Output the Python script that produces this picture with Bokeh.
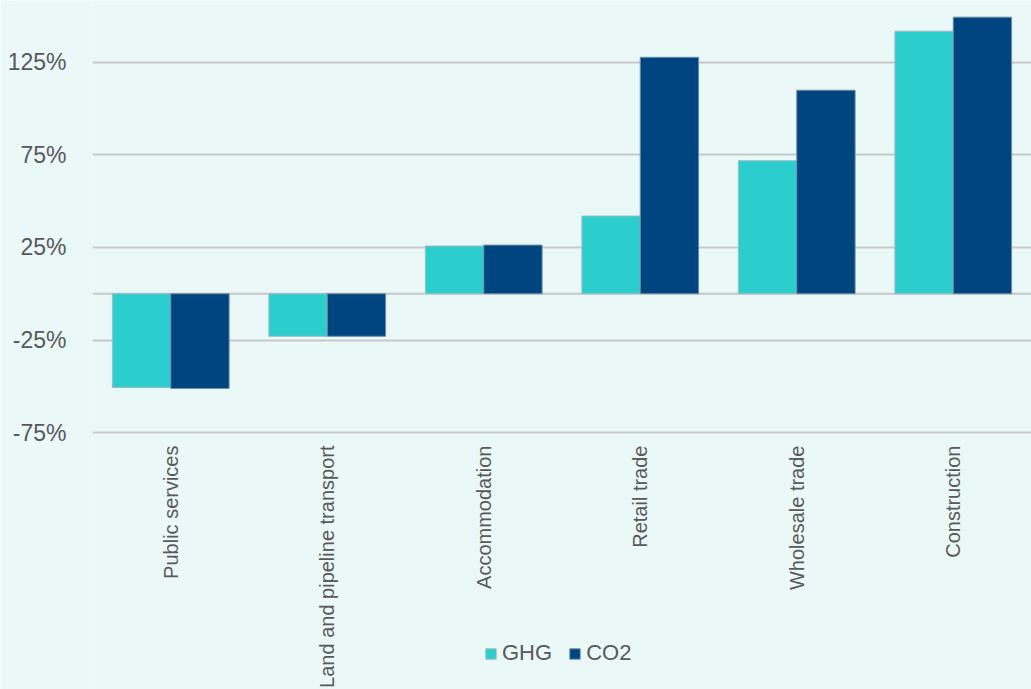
import math
from bokeh.plotting import figure
from bokeh.models import ColumnDataSource, Range1d, FactorRange, FixedTicker, Span, Legend, LegendItem, CustomJSTickFormatter
from bokeh.core.properties import value
from bokeh.transform import dodge
from bokeh.embed import file_html
from bokeh.resources import INLINE

categories = ["Public services", "Land and pipeline transport", "Accommodation",
              "Retail trade", "Wholesale trade", "Construction"]
ghg = [-50.7, -23.0, 25.8, 42.0, 71.9, 141.9]
co2 = [-51.2, -23.0, 26.3, 127.8, 110.0, 149.5]
y_ticks = [-75, -25, 25, 75, 125]
axis_floor = -75

BG = "#eaf8f8"
TEAL = "#2ccdcd"
NAVY = "#004580"
GRID = "#c8c8c8"
TXT = "#595959"
FONT = "Liberation Sans"

src = ColumnDataSource(dict(cat=categories, ghg=ghg, co2=co2,
                            floor=[axis_floor] * len(categories)))

p = figure(width=1031, height=689, x_range=FactorRange(*categories, range_padding=0),
           y_range=Range1d(-213.9, 158.5), output_backend="svg", toolbar_location=None,
           background_fill_color=BG, border_fill_color=BG, outline_line_color=None,
           min_border_left=92, min_border_right=0, min_border_top=0, min_border_bottom=0)

r1 = p.vbar(x=dodge("cat", -0.1865, range=p.x_range), top="ghg", bottom=0, width=0.373,
            source=src, fill_color=TEAL, line_color="#9dbcc4", line_width=1)
r2 = p.vbar(x=dodge("cat", 0.1865, range=p.x_range), top="co2", bottom=0, width=0.373,
            source=src, fill_color=NAVY, line_color="#6f8fa8", line_width=1)

# category labels (x axis), rotated to read upward, hanging below the -75% line
p.text(x="cat", y="floor", text="cat", source=src, angle=math.pi / 2,
       text_align="right", text_baseline="middle", y_offset=13,
       text_font=value(FONT), text_font_size="20px", text_color=TXT)

p.xaxis.visible = False
p.xgrid.visible = False
p.ygrid.ticker = FixedTicker(ticks=y_ticks)
p.ygrid.grid_line_color = GRID
p.ygrid.grid_line_width = 2
p.add_layout(Span(location=0, dimension="width", line_color=GRID, line_width=2), "center")
r1.level = "overlay"
r2.level = "overlay"

p.yaxis.ticker = FixedTicker(ticks=y_ticks)
p.yaxis.formatter = CustomJSTickFormatter(code="return tick + '%';")
p.yaxis.axis_line_color = None
p.yaxis.major_tick_line_color = None
p.yaxis.minor_tick_line_color = None
p.yaxis.major_label_text_font = FONT
p.yaxis.major_label_text_font_size = "23px"
p.yaxis.major_label_text_color = TXT
p.yaxis.major_label_standoff = 20

legend = Legend(items=[LegendItem(label="GHG", renderers=[r1]), LegendItem(label="CO2", renderers=[r2])],
                orientation="horizontal", location=(392, 23),
                background_fill_alpha=0, border_line_color=None,
                label_text_font=FONT, label_text_font_size="22px", label_text_color=TXT,
                glyph_width=13, glyph_height=13, spacing=16, label_standoff=5,
                padding=2, margin=0)
p.add_layout(legend, "center")

open("out.html", "w").write(file_html(p, INLINE))
